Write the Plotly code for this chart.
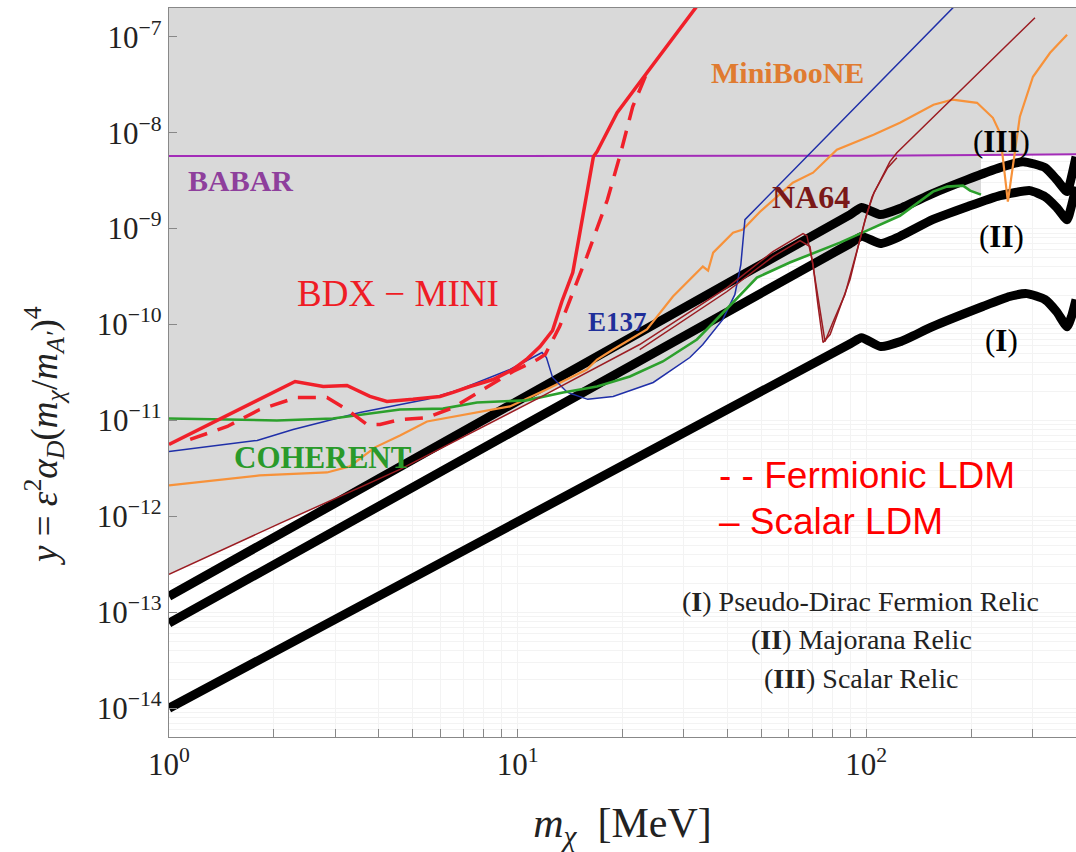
import plotly.graph_objects as go

# ---------------- data (m_chi in MeV, y = eps^2 alpha_D (m_chi/m_A')^4) ----------------
# Thermal relic targets
relic1_m = [1, 90, 97, 110, 125, 155, 216, 258, 289, 326, 352, 377, 389, 400]
relic1_y = [1.0e-14, 6.3e-11, 7.3e-11, 5.9e-11, 6.6e-11, 9.5e-11, 1.54e-10, 1.96e-10,
            2.1e-10, 1.82e-10, 1.36e-10, 9.5e-11, 1.24e-10, 1.82e-10]

relic2_m = [1, 90, 97, 110, 125, 155, 195, 242, 295, 326, 352, 377, 389, 400]
relic2_y = [7.7e-14, 7.0e-10, 8.3e-10, 7.0e-10, 8.3e-10, 1.24e-9, 1.69e-9, 2.21e-9,
            2.49e-9, 2.15e-9, 1.66e-9, 1.24e-9, 1.78e-9, 2.74e-9]

relic3_m = [1, 90, 97, 110, 125, 155, 195, 242, 282, 326, 352, 377, 389, 400]
relic3_y = [1.47e-13, 1.40e-9, 1.66e-9, 1.40e-9, 1.62e-9, 2.32e-9, 3.24e-9, 4.32e-9,
            4.99e-9, 4.32e-9, 3.24e-9, 2.43e-9, 3.57e-9, 5.62e-9]

# Existing limits
babar_m = [1, 100, 400]
babar_y = [5.7e-9, 5.75e-9, 5.95e-9]

miniboone_m = [1, 1.82, 2.84, 3.30, 3.90, 4.60, 5.50, 6.83, 8.49, 9.51, 12.1, 15.8, 16.9,
               18.8, 23.5, 27.9, 34.0, 35.2, 36.4, 41.5, 44.3, 49.6, 61.6, 70.4, 82.4,
               105, 125, 156, 177, 208, 231, 242, 255, 276, 301, 337, 377]
miniboone_y = [2.1e-12, 2.67e-12, 2.87e-12, 3.32e-12, 5.24e-12, 6.98e-12, 9.77e-12,
               1.13e-11, 1.30e-11, 1.40e-11, 2.10e-11, 3.40e-11, 4.32e-11, 5.49e-11,
               8.87e-11, 1.96e-10, 4.02e-10, 3.65e-10, 5.62e-10, 9.08e-10, 9.77e-10,
               1.50e-9, 3.01e-9, 3.83e-9, 6.65e-9, 9.53e-9, 1.27e-8, 1.96e-8, 2.21e-8,
               2.05e-8, 1.43e-8, 1.0e-8, 1.91e-9, 1.47e-8, 3.83e-8, 6.81e-8, 1.05e-7]

e137_m = [1, 1.79, 2.27, 3.53, 5.50, 6.83, 9.51, 11.75, 12.1, 12.6, 13.9, 15.9, 18.8,
          24.5, 31.2, 34.0, 38.8, 42.0, 43.7, 44.9, 193]
e137_y = [4.75e-12, 6.19e-12, 8.06e-12, 1.21e-11, 1.66e-11, 2.10e-11, 3.40e-11, 5.11e-11,
          4.53e-11, 2.81e-11, 1.96e-11, 1.66e-11, 1.78e-11, 2.49e-11, 4.53e-11, 6.19e-11,
          1.13e-10, 2.05e-10, 4.22e-10, 1.24e-9, 2.74e-7]

coherent_m = [1, 2.04, 2.95, 4.60, 6.11, 7.65, 10.6, 13.5, 16.9, 21.0, 26.1, 32.7, 40.7,
              48.6, 60.4, 84.1, 100.5, 125, 155.5, 170.6, 189.6, 198.7, 213.5]
coherent_y = [1.05e-11, 1.0e-11, 1.05e-11, 1.30e-11, 1.33e-11, 1.54e-11, 1.62e-11,
              1.96e-11, 2.26e-11, 2.87e-11, 4.12e-11, 6.98e-11, 1.58e-10, 3.09e-10,
              4.43e-10, 7.15e-10, 9.53e-10, 1.36e-9, 2.43e-9, 2.74e-9, 2.81e-9, 2.49e-9,
              2.26e-9]

na64_m = [1, 2.08, 4.60, 11.6, 22.4, 39.9, 54.0, 65.9, 67.6, 70.4, 72.7, 75.2, 78.8,
          84.1, 89.9, 94.7, 99.3, 104, 110, 117, 122.5, 305]
na64_y = [2.49e-13, 8.45e-13, 3.09e-12, 1.74e-11, 6.19e-11, 2.43e-10, 5.75e-10, 8.87e-10,
          8.45e-10, 4.22e-10, 1.62e-10, 6.5e-11, 7.87e-11, 1.50e-10, 2.94e-10, 6.34e-10,
          1.24e-9, 2.15e-9, 3.24e-9, 4.99e-9, 6.19e-9, 1.58e-7]

na64b_m = [22.4, 39.9, 54.0, 64.6, 69.0, 72.3, 76.2, 80.4, 86.9, 96.0, 100.5, 105.3,
           115.3, 122.5]
na64b_y = [5.49e-11, 2.21e-10, 5.11e-10, 7.50e-10, 6.5e-10, 2.32e-10, 6.65e-11, 1.07e-10,
           2.05e-10, 7.68e-10, 1.43e-9, 2.37e-9, 4.32e-9, 5.49e-9]

# BDX-MINI projections
bdx_scalar_m = [1, 2.30, 2.77, 3.24, 3.77, 4.22, 5.01, 5.99, 6.53, 7.30, 8.50, 9.70,
                10.6, 11.6, 12.6, 13.4, 14.4, 16.5, 16.9, 19.3, 23.5, 32.9]
bdx_scalar_y = [5.62e-12, 2.55e-11, 2.26e-11, 2.32e-11, 1.78e-11, 1.58e-11, 1.66e-11,
                1.78e-11, 1.96e-11, 2.26e-11, 2.67e-11, 3.40e-11, 4.32e-11, 5.9e-11,
                8.66e-11, 1.74e-10, 3.48e-10, 5.62e-9, 6.34e-9, 1.62e-8, 4.22e-8, 2.15e-7]

bdx_fermion_m = [1.15, 1.47, 1.82, 2.33, 2.84, 3.24, 3.70, 4.03, 4.60, 5.50, 6.53, 7.80,
                 9.70, 11.4, 12.0, 13.2, 14.4, 15.8, 18.1, 19.7, 21.4, 23.5]
bdx_fermion_y = [6.34e-12, 8.66e-12, 1.30e-11, 1.74e-11, 1.74e-11, 1.30e-11, 9.08e-12,
                 9.08e-12, 1.02e-11, 1.07e-11, 1.36e-11, 2.01e-11, 3.24e-11, 4.32e-11,
                 4.87e-11, 9.53e-11, 2.15e-10, 5.11e-10, 2.0e-9, 5.9e-9, 1.87e-8, 4.22e-8]

# Lower edge of the already-excluded (shaded) region
excluded_m = [1, 2.08, 4.60, 11.6, 13.2, 13.9, 15.9, 18.8, 24.5, 31.2, 34.0, 38.8, 42.0,
              48.6, 60.4, 69.5, 70.4, 72.7, 75.2, 78.8, 84.1, 89.9, 94.7, 96.6, 100.5,
              125, 155.5, 170.6, 189.6, 198.7, 213.5, 213.5, 400]
excluded_y = [2.49e-13, 8.45e-13, 3.09e-12, 1.74e-11, 2.21e-11, 1.96e-11, 1.66e-11,
              1.78e-11, 2.49e-11, 4.53e-11, 6.19e-11, 1.13e-10, 2.0e-10, 3.09e-10,
              4.43e-10, 5.24e-10, 4.22e-10, 1.62e-10, 6.5e-11, 7.87e-11, 1.50e-10,
              2.94e-10, 6.34e-10, 8.45e-10, 9.53e-10, 1.36e-9, 2.43e-9, 2.74e-9, 2.81e-9,
              2.49e-9, 2.26e-9, 5.85e-9, 5.95e-9]

X_MIN, X_MAX = 1, 400
LOGY_MIN, LOGY_MAX = -14.3, -6.7

x_decades = {1: "10<sup>0</sup>", 10: "10<sup>1</sup>", 100: "10<sup>2</sup>"}
y_decades = [1e-14, 1e-13, 1e-12, 1e-11, 1e-10, 1e-9, 1e-8, 1e-7]
y_labels = ["10<sup>−14</sup>", "10<sup>−13</sup>", "10<sup>−12</sup>", "10<sup>−11</sup>",
            "10<sup>−10</sup>", "10<sup>−9</sup>", "10<sup>−8</sup>", "10<sup>−7</sup>"]

SERIF = "Liberation Serif, Times New Roman, serif"
SANS = "Liberation Sans, Arial, sans-serif"

fig = go.Figure()

# shaded exclusion
top = 10 ** (LOGY_MAX + 0.5)
fig.add_trace(go.Scatter(
    x=excluded_m + [X_MAX, X_MIN], y=excluded_y + [top, top],
    mode="lines", fill="toself", fillcolor="#d9d9d9", line=dict(width=0),
    hoverinfo="skip"))

# relic targets
for m, y in [(relic1_m, relic1_y), (relic2_m, relic2_y), (relic3_m, relic3_y)]:
    fig.add_trace(go.Scatter(x=m, y=y, mode="lines",
                             line=dict(color="black", width=9, shape="spline", smoothing=0.5)))

# experiments
fig.add_trace(go.Scatter(x=babar_m, y=babar_y, mode="lines",
                         line=dict(color="#a32cb8", width=2)))
fig.add_trace(go.Scatter(x=miniboone_m, y=miniboone_y, mode="lines",
                         line=dict(color="#f7923a", width=2.2)))
fig.add_trace(go.Scatter(x=e137_m, y=e137_y, mode="lines",
                         line=dict(color="#1f2fa8", width=1.5)))
fig.add_trace(go.Scatter(x=coherent_m, y=coherent_y, mode="lines",
                         line=dict(color="#2ca02c", width=2.6)))
fig.add_trace(go.Scatter(x=na64_m, y=na64_y, mode="lines",
                         line=dict(color="#9b1c22", width=1.5)))
fig.add_trace(go.Scatter(x=na64b_m, y=na64b_y, mode="lines",
                         line=dict(color="#9b1c22", width=1.5)))
fig.add_trace(go.Scatter(x=bdx_scalar_m, y=bdx_scalar_y, mode="lines",
                         line=dict(color="#f0202a", width=3.5)))
fig.add_trace(go.Scatter(x=bdx_fermion_m, y=bdx_fermion_y, mode="lines",
                         line=dict(color="#f0202a", width=3.5, dash="18px,11px")))


def px_x(p):
    return (p - 169) / 907


def px_y(p):
    return (737 - p) / 729


def label(text, x, y, size, color, font=SERIF, xanchor="center", angle=0):
    fig.add_annotation(text=text, x=px_x(x), y=px_y(y), xref="paper", yref="paper",
                       showarrow=False, xanchor=xanchor, yanchor="middle", textangle=angle,
                       font=dict(family=font, size=size, color=color))


label("<b>BABAR</b>", 240, 181, 30, "#8e3f9c")
label("<b>MiniBooNE</b>", 787, 72, 30, "#e07b30")
label("<b>NA64</b>", 811, 197, 32, "#7a1818")
label("<b>E137</b>", 617, 322, 27, "#1f2f9a")
label("<b>COHERENT</b>", 323, 457, 31, "#2a9a2a")
label("BDX − MINI", 398, 293, 37, "#ef1c25")
label("(<b>III</b>)", 1001, 141, 31, "black")
label("(<b>II</b>)", 1001, 237, 31, "black")
label("(<b>I</b>)", 1001, 340, 31, "black")
label("(<b>I</b>) Pseudo-Dirac Fermion Relic", 860, 601, 28, "#222222")
label("(<b>II</b>) Majorana Relic", 861, 639, 28, "#222222")
label("(<b>III</b>) Scalar Relic", 861, 678, 28, "#222222")
label("- - Fermionic LDM", 717, 475, 37, "#ff0000", font=SANS, xanchor="left")
label("– Scalar LDM", 717, 521, 37, "#ff0000", font=SANS, xanchor="left")

# y-axis title
label("<i>y</i> = <i>ε</i><sup>2</sup><i>α</i><sub><i>D</i></sub>"
      "(<i>m</i><sub><i>χ</i></sub>/<i>m</i><sub><i>A′</i></sub>)<sup>4</sup>",
      44, 436, 37, "#222222", angle=-90)

x_minor = [k * d for d in (1, 10, 100) for k in range(1, 10) if k * d < X_MAX]
y_minor = [k * 10.0 ** e for e in range(-15, -6) for k in range(2, 10)]

fig.update_layout(
    width=1076, height=852,
    margin=dict(l=169, r=0, t=8, b=115),
    template="none",
    paper_bgcolor="white", plot_bgcolor="white",
    showlegend=False,
    font=dict(family=SERIF, color="black"),
    xaxis=dict(
        type="log", range=[0, 2.602],
        tickmode="array", tickvals=x_minor,
        ticktext=[x_decades.get(v, "") for v in x_minor],
        ticks="inside", ticklen=8, tickcolor="#888888", tickwidth=1,
        tickfont=dict(family=SERIF, size=31, color="#222222"),
        showgrid=True, gridcolor="#f3f3f3", gridwidth=1,
        showline=True, linecolor="#888888", linewidth=1.2, mirror=True,
        zeroline=False,
        title=dict(text="<i>m</i><sub><i>χ</i></sub>  [MeV]", standoff=26,
                   font=dict(family=SERIF, size=42, color="#222222")),
    ),
    yaxis=dict(
        type="log", range=[LOGY_MIN, LOGY_MAX],
        tickmode="array", tickvals=y_decades, ticktext=y_labels,
        ticks="inside", ticklen=8, tickcolor="#888888", tickwidth=1,
        tickfont=dict(family=SERIF, size=31, color="#222222"),
        showgrid=True, gridcolor="#f3f3f3", gridwidth=1,
        minor=dict(tickmode="array", tickvals=y_minor, showgrid=True,
                   gridcolor="#f3f3f3", gridwidth=1, ticks=""),
        showline=True, linecolor="#888888", linewidth=1.2, mirror=False,
        zeroline=False,
    ),
)

fig.write_html("out.html")
